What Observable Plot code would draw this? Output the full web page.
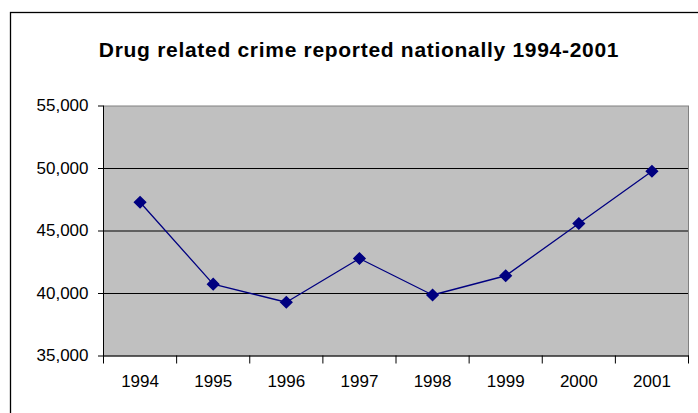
<!DOCTYPE html>
<html>
<head>
<meta charset="utf-8">
<script src="https://cdn.jsdelivr.net/npm/d3@7"></script>
<script src="https://cdn.jsdelivr.net/npm/@observablehq/plot@0.6"></script>
<style>
  html, body { margin: 0; padding: 0; background: #fff; }
  #chart svg { display: block; }
</style>
</head>
<body>
<div id="chart"></div>
<script>
const title = "Drug related crime reported nationally 1994-2001";
const years = [1994, 1995, 1996, 1997, 1998, 1999, 2000, 2001];
const crimes = [47300, 40750, 39300, 42800, 39880, 41420, 45600, 49780];
const yTicks = [35000, 40000, 45000, 50000, 55000];
const gridValues = [40000, 45000, 50000];

const data = years.map((year, i) => ({year, value: crimes[i]}));
const boundaries = [...years.map(y => y - 0.5), years[years.length - 1] + 0.5];

const font = "Arial, 'Liberation Sans', sans-serif";
const chart = Plot.plot({
  width: 698,
  height: 413,
  marginLeft: 103,
  marginRight: 10,
  marginTop: 105.5,
  marginBottom: 57.5,
  style: {fontFamily: font, fontSize: "17px", color: "#000", background: "#fff"},
  x: {type: "linear", domain: [years[0] - 0.5, years[years.length - 1] + 0.5]},
  y: {domain: [35000, 55000]},
  marks: [
    Plot.frame({fill: "#C0C0C0", stroke: "#808080"}),
    Plot.ruleY(gridValues, {stroke: "#000", strokeWidth: 1}),
    Plot.frame({anchor: "left", stroke: "#000"}),
    Plot.frame({anchor: "bottom", stroke: "#000"}),
    Plot.axisY({ticks: yTicks, tickSize: 5, tickPadding: 10, tickFormat: d3.format(","), label: null, fontSize: 17}),
    Plot.axisX({ticks: boundaries, tickSize: 8, tickFormat: () => "", label: null}),
    Plot.axisX({ticks: years, tickSize: 0, tickPadding: 19, tickFormat: d => String(d), label: null, fontSize: 17}),
    Plot.line(data, {x: "year", y: "value", stroke: "#000080", strokeWidth: 1.3}),
    Plot.dot(data, {x: "year", y: "value", symbol: "diamond2", r: 5, fill: "#000080", stroke: "#000080"}),
    Plot.text([title], {frameAnchor: "top", lineAnchor: "middle", dx: -37, dy: -56, fontWeight: "bold", fontSize: 21, fill: "#000", className: "chart-title"})
  ]
});

d3.select(chart).selectAll(".chart-title text").style("letter-spacing", "0.7px");

// outer chart-area border
d3.select(chart).append("rect")
  .attr("x", 10.5).attr("y", 12.5)
  .attr("width", 720).attr("height", 440)
  .attr("fill", "none").attr("stroke", "#000").attr("stroke-width", 1.3);

document.getElementById("chart").appendChild(chart);
</script>
</body>
</html>
